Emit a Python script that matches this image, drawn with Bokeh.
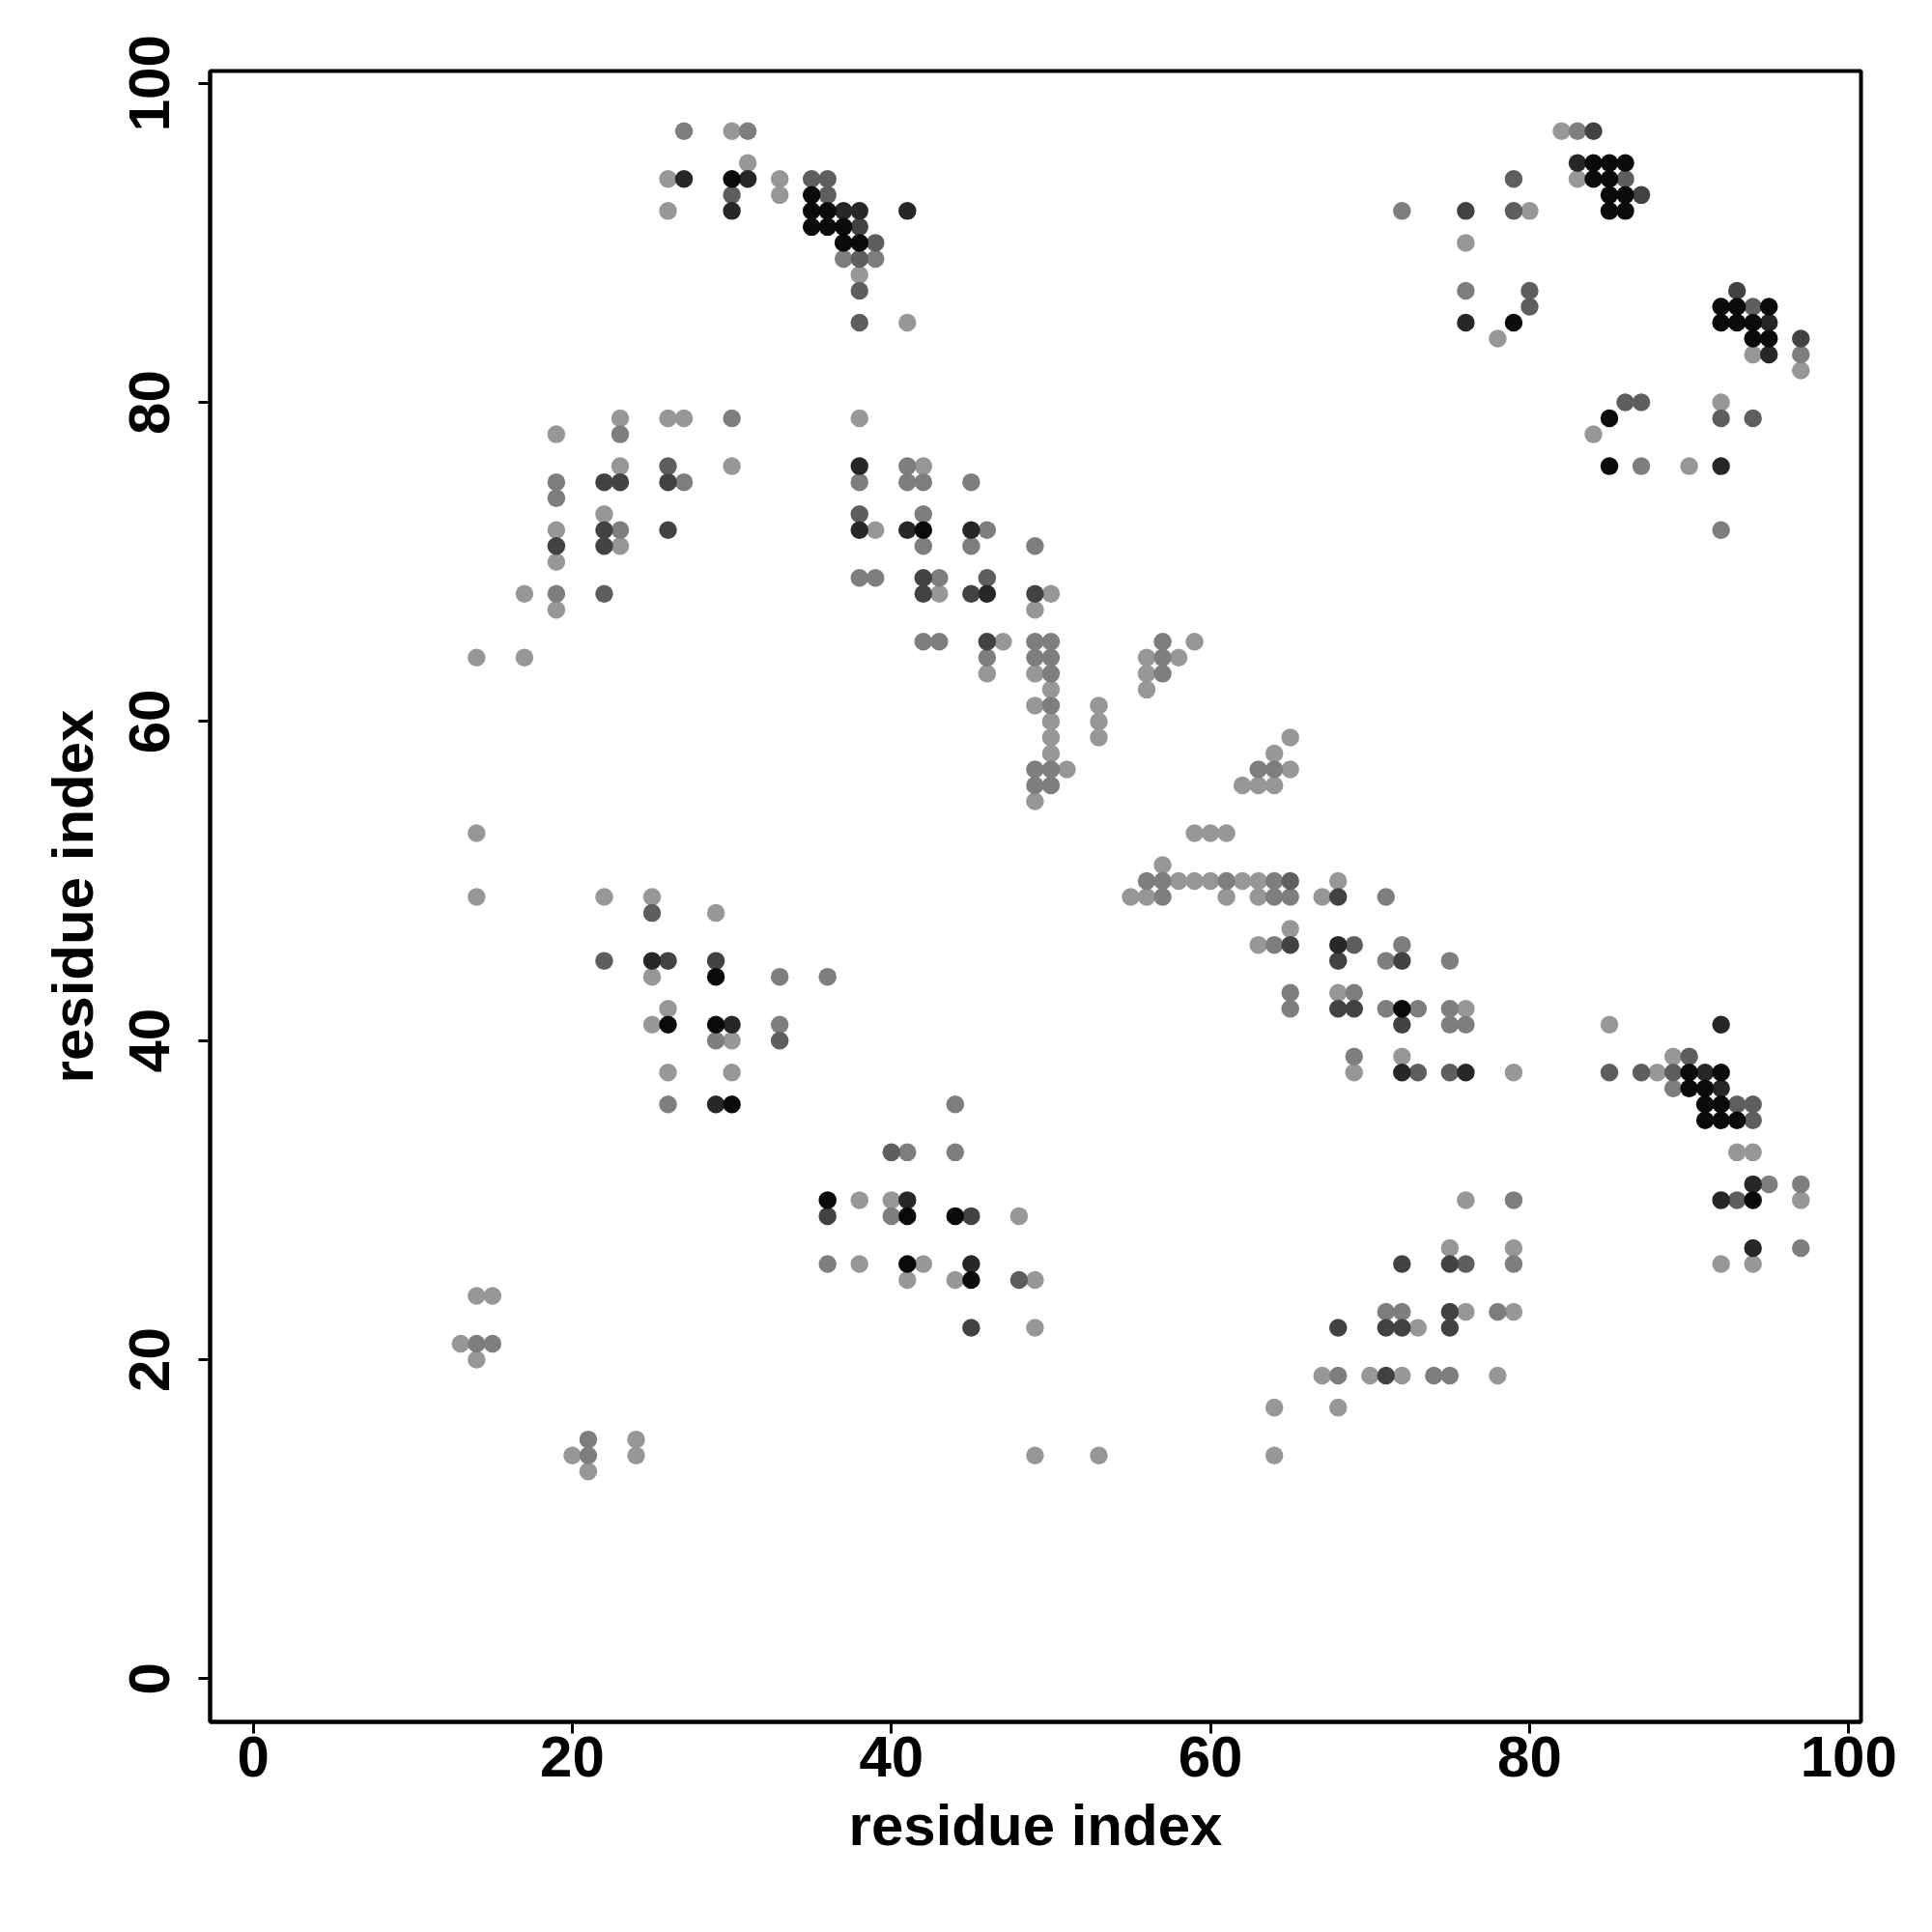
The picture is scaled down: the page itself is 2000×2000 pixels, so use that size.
from bokeh.plotting import figure
from bokeh.models import Range1d, FixedTicker, ColumnDataSource
from bokeh.embed import file_html
from bokeh.resources import INLINE

# Contact map: residue pairs (x = residue i, y = residue j) grouped by contact strength
# level 1 = weakest (light grey) ... level 6 = strongest (black)
lvl1_x = [30, 31, 26, 26, 33, 33, 38, 41,
          19, 23, 26, 27, 23, 30, 19, 19, 22, 23, 17, 19, 14, 17, 14, 14,
          38, 42, 39, 43, 50, 49, 47, 46, 49, 50, 49, 50, 50, 50, 51, 49, 53, 53, 53,
          59, 56, 58, 56, 56, 65, 64, 65, 62, 63, 64, 59, 60, 61, 57, 58, 59, 60, 62, 63, 55, 56, 61, 63, 67, 68, 65, 63, 68, 76, 69, 72, 79,
          85, 88, 89, 93, 94, 97, 92, 94, 79, 79, 78, 76, 75, 76, 73, 67, 70, 72, 64, 68, 64,
          22, 25, 29, 25, 26, 25, 30, 26, 30, 38, 40, 48, 38, 42, 41, 44, 49, 49, 49, 53,
          14, 15, 13, 14, 20, 21, 24, 24,
          76, 82, 83, 80, 78, 94, 97, 84, 90, 92]
lvl1_y = [97, 95, 94, 92, 94, 93, 88, 85,
          78, 79, 79, 79, 76, 76, 72, 70, 73, 71, 68, 67, 64, 64, 53, 49,
          79, 76, 72, 68, 68, 67, 65, 63, 63, 62, 61, 60, 59, 58, 57, 55, 61, 60, 59,
          65, 64, 64, 63, 62, 59, 58, 57, 56, 56, 56, 53, 53, 53, 51, 50, 50, 50, 50, 50, 49, 49, 49, 49, 49, 50, 47, 46, 43, 42, 38, 39, 38,
          41, 38, 39, 33, 33, 30, 26, 26, 27, 23, 19, 30, 27, 23, 22, 19, 19, 19, 17, 17, 14,
          49, 49, 48, 44, 42, 41, 40, 38, 38, 30, 30, 29, 26, 26, 25, 25, 25, 22, 14, 14,
          24, 24, 21, 20, 14, 13, 15, 14,
          90, 97, 94, 92, 84, 83, 82, 78, 76, 80]

lvl2_x = [27, 31, 37, 39,
          23, 19, 19, 27, 30, 23, 19,
          38, 41, 41, 42, 45, 42, 42, 46, 45, 49, 38, 39, 43, 42, 43, 46, 49, 50, 49, 50, 50, 50, 49, 50, 49, 50,
          57, 57, 57, 63, 64, 56, 57, 61, 64, 57, 64, 65, 71, 64, 72, 71, 75, 65, 65, 69, 71, 73, 75, 75, 76, 69,
          89, 95, 97, 97, 79, 79, 78, 71, 72, 68, 74, 75,
          29, 33, 36, 33, 26, 44, 41, 44, 40, 36,
          14, 15, 21, 21,
          72, 76, 83, 97, 87, 92]
lvl2_y = [97, 97, 89, 89,
          78, 75, 74, 75, 79, 72, 68,
          75, 76, 75, 75, 75, 73, 71, 72, 71, 71, 69, 69, 69, 65, 65, 64, 65, 65, 64, 64, 63, 61, 57, 57, 56, 56,
          65, 64, 63, 57, 57, 50, 50, 50, 50, 49, 49, 49, 49, 46, 46, 45, 45, 43, 42, 43, 42, 42, 42, 41, 41, 39,
          37, 31, 31, 27, 30, 26, 23, 23, 23, 19, 19, 19,
          40, 44, 44, 41, 36, 36, 33, 33, 29, 26,
          21, 21, 15, 14,
          92, 87, 97, 83, 76, 72]

lvl3_x = [30, 35, 36, 36, 39, 38, 38, 38,
          22, 26, 38, 46,
          65, 69, 73, 75,
          85, 87, 90, 89, 93, 94, 94, 93, 76,
          25, 22, 33, 40, 48,
          86, 79, 79, 80, 80, 94, 86, 87, 92, 94]
lvl3_y = [93, 94, 94, 93, 90, 89, 87, 85,
          68, 76, 73, 69,
          50, 46, 38, 38,
          38, 38, 39, 38, 36, 36, 35, 30, 26,
          48, 45, 40, 33, 25,
          94, 94, 92, 87, 86, 86, 80, 80, 79, 79]

lvl4_x = [38,
          19, 22, 23, 26, 22, 22, 26,
          42, 42, 45, 49, 46,
          68, 65, 68, 72, 68, 69, 72,
          72, 75, 75, 68, 71, 72, 75, 71,
          26, 29, 36, 45, 45,
          76, 84, 87, 93, 97]
lvl4_y = [91,
          71, 75, 75, 75, 72, 71, 72,
          69, 68, 68, 68, 65,
          49, 46, 45, 45, 42, 42, 41,
          26, 26, 23, 22, 22, 22, 22, 19,
          45, 45, 29, 29, 22,
          92, 97, 93, 87, 84]

lvl5_x = [27, 31, 30, 37, 38, 41,
          38, 38, 41, 45, 46,
          68, 72, 76,
          92, 91, 92, 94, 92, 94,
          25, 30, 29, 41, 45,
          76, 83, 95, 95, 92]
lvl5_y = [94, 94, 92, 92, 92, 92,
          76, 72, 72, 72, 68,
          46, 38, 38,
          41, 38, 37, 31, 30, 27,
          45, 41, 36, 30, 26,
          85, 95, 85, 83, 76]

lvl6_x = [30, 35, 35, 36, 35, 36, 37, 37, 38,
          42, 72,
          90, 92, 90, 91, 91, 92, 91, 92, 93, 94,
          29, 26, 29, 30, 36, 41, 44, 41, 45,
          84, 85, 86, 84, 85, 85, 86, 85, 86, 79, 92, 93, 95, 92, 93, 94, 94, 95, 85, 85]
lvl6_y = [94, 93, 92, 92, 91, 91, 91, 90, 90,
          72, 42,
          38, 38, 37, 37, 36, 36, 35, 35, 35, 30,
          44, 41, 41, 36, 30, 29, 29, 26, 25,
          95, 95, 95, 94, 94, 93, 93, 92, 92, 85, 86, 86, 86, 85, 85, 85, 84, 84, 79, 76]

level_colors = ["#979797", "#7e7e7e", "#5e5e5e", "#424242", "#272727", "#0a0a0a"]

xs_all = [lvl1_x, lvl2_x, lvl3_x, lvl4_x, lvl5_x, lvl6_x]
ys_all = [lvl1_y, lvl2_y, lvl3_y, lvl4_y, lvl5_y, lvl6_y]

FONT = "Liberation Sans"

p = figure(width=1992, height=1992, output_backend="svg", toolbar_location=None,
           x_range=Range1d(-2.7, 100.77), y_range=Range1d(-2.7, 100.77),
           min_border_left=217, min_border_right=66, min_border_top=73, min_border_bottom=210)

for xs, ys, col in zip(xs_all, ys_all, level_colors):
    src = ColumnDataSource(dict(x=xs, y=ys))
    p.scatter("x", "y", source=src, size=18.5, fill_color=col, line_color=None)

p.xgrid.visible = False
p.ygrid.visible = False
p.background_fill_color = "white"
p.border_fill_color = "white"
p.outline_line_color = "black"
p.outline_line_width = 4

ticks = [0, 20, 40, 60, 80, 100]
for ax in (p.xaxis[0], p.yaxis[0]):
    ax.ticker = FixedTicker(ticks=ticks)
    ax.axis_label = "residue index"
    ax.axis_line_color = "black"
    ax.axis_line_width = 4
    ax.major_tick_line_width = 3
    ax.major_tick_line_color = "black"
    ax.major_tick_out = 12
    ax.major_tick_in = 0
    ax.minor_tick_line_color = None
    ax.major_label_text_font = FONT
    ax.major_label_text_font_style = "bold"
    ax.major_label_text_font_size = "60px"
    ax.major_label_text_color = "black"
    ax.axis_label_text_font = FONT
    ax.axis_label_text_font_style = "bold"
    ax.axis_label_text_font_size = "60px"
    ax.axis_label_text_color = "black"

p.yaxis.major_label_orientation = "vertical"
p.xaxis.major_label_standoff = 3
p.yaxis.major_label_standoff = 30
p.xaxis.axis_label_standoff = 14
p.yaxis.axis_label_standoff = 23

open("out.html", "w").write(file_html(p, INLINE))
